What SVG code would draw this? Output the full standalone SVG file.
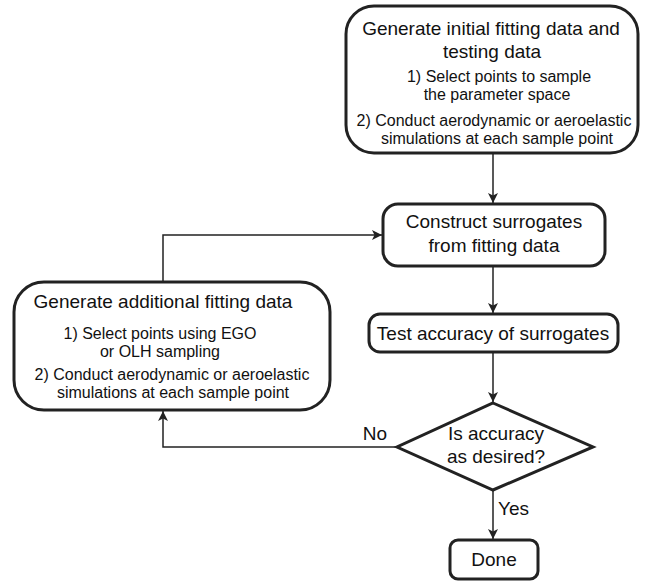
<svg xmlns="http://www.w3.org/2000/svg" width="646" height="581" viewBox="0 0 646 581">
<defs>
<marker id="arr" viewBox="0 0 10 10" refX="10" refY="5" markerWidth="10" markerHeight="10" markerUnits="userSpaceOnUse" orient="auto">
<path d="M0,0 L10,5 L0,10 L2.5,5 Z" fill="#222"/>
</marker>
<style>
.box{fill:#fff;stroke:#222;stroke-width:3}
.con{fill:none;stroke:#222;stroke-width:1.5}
text{font-family:"Liberation Sans",Arial,sans-serif;fill:#111;text-anchor:middle}
.t{font-size:19px}
.s{font-size:16px}
</style>
</defs>
<rect width="646" height="581" fill="#fff"/>
<g id="connectors">
<path class="con" d="M493,153 V203" marker-end="url(#arr)"/>
<path class="con" d="M493,266 V313" marker-end="url(#arr)"/>
<path class="con" d="M493,352 V402" marker-end="url(#arr)"/>
<path class="con" d="M493,490 V539" marker-end="url(#arr)"/>
<path class="con" d="M397,447 H163 V411" marker-end="url(#arr)"/>
<path class="con" d="M163,282 V235 H382" marker-end="url(#arr)"/>
</g>
<g id="generate-initial">
<rect class="box" x="346" y="6" width="292" height="147" rx="28"/>
<text class="t" x="491" y="35">Generate initial fitting data and</text>
<text class="t" x="492" y="58">testing data</text>
<text class="s" x="499" y="82">1) Select points to sample</text>
<text class="s" x="497" y="100">the parameter space</text>
<text class="s" x="494" y="126">2) Conduct aerodynamic or aeroelastic</text>
<text class="s" x="497" y="144">simulations at each sample point</text>
</g>
<g id="construct">
<rect class="box" x="383" y="204" width="222" height="62" rx="15"/>
<text class="t" x="494" y="228">Construct surrogates</text>
<text class="t" x="494" y="252">from fitting data</text>
</g>
<g id="test">
<rect class="box" x="369" y="314" width="249" height="38" rx="11"/>
<text class="t" x="493" y="340">Test accuracy of surrogates</text>
</g>
<g id="decision">
<path class="box" d="M493,403 L593,447 L493,490 L397,447 Z"/>
<text class="t" x="496" y="440">Is accuracy</text>
<text class="t" x="496" y="463">as desired?</text>
</g>
<g id="generate-additional">
<rect class="box" x="14" y="282" width="316" height="128" rx="30"/>
<text class="t" x="163" y="308">Generate additional fitting data</text>
<text class="s" x="160" y="339">1) Select points using EGO</text>
<text class="s" x="160" y="357">or OLH sampling</text>
<text class="s" x="172" y="380">2) Conduct aerodynamic or aeroelastic</text>
<text class="s" x="173" y="398">simulations at each sample point</text>
</g>
<g id="done">
<rect class="box" x="450" y="540" width="88" height="39" rx="8"/>
<text class="t" x="494" y="566">Done</text>
</g>
<g id="labels">
<text class="t" x="375" y="440">No</text>
<text class="t" x="498" y="515" style="text-anchor:start">Yes</text>
</g>
</svg>
